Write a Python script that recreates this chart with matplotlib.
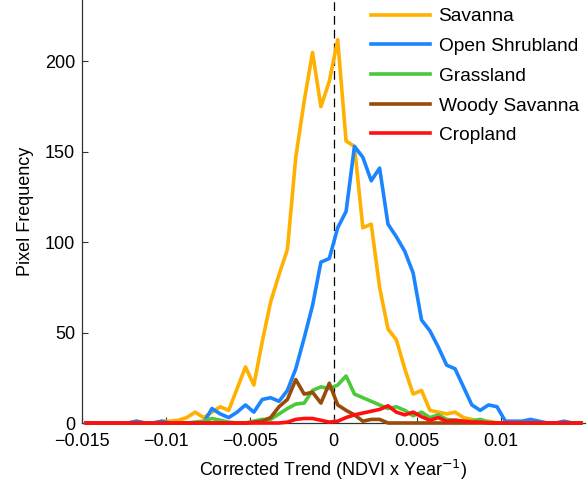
import numpy as np
import matplotlib
matplotlib.use("Agg")
import matplotlib.pyplot as plt

plt.rcParams['font.family'] = ['Liberation Sans', 'DejaVu Sans']

# bin centres of the trend histogram (bin width 0.0005)
trend = np.round(np.arange(-0.01475, 0.0148, 0.0005), 5)

savanna = [0, 0, 0, 0, 0, 0, 1, 0, 0, 1,
           1, 1.5, 3, 6, 3, 6, 9, 7, 19, 31,
           21, 45, 67, 82, 96, 147, 178, 205, 175, 189,
           212, 156, 153, 108, 110, 75, 52, 46, 30, 16,
           18, 7, 6, 5, 6, 3, 2, 1, 1, 0,
           0, 0, 0, 0, 0, 0, 0, 0, 0, 0]
shrubland = [0, 0, 0, 0, 0, 0, 1, 0, 0, 1,
             0, 0, 0, 0, 0, 8, 5, 3, 6, 10,
             6, 13, 14, 12, 18, 30, 47, 65, 89, 91,
             108, 117, 153, 147, 134, 141, 110, 103, 95, 83,
             57, 51, 42, 32, 30, 20, 10, 7, 10, 9,
             1, 1, 1, 2, 1, 0, 0, 1, 0, 0]
grassland = [0, 0, 0, 0, 0, 0, 0, 0, 0, 0,
             0, 0, 0, 0.5, 1, 2.5, 1.5, 0.5, 0, 0,
             1, 2, 2, 5, 8, 10.5, 11, 18, 20, 19,
             21, 26, 16, 14, 12, 10, 8, 9, 7, 4,
             6, 3, 4.5, 2, 1.5, 1, 1, 2, 0.5, 0,
             0, 0, 0, 0, 0, 0, 0, 0, 0, 0]
woody = [0, 0, 0, 0, 0, 0, 0, 0, 0, 0,
         0, 0, 0, 0, 0, 0, 0, 0, 0, 0,
         0.5, 1, 3, 9, 13, 24, 16, 17, 11, 22,
         10, 7, 4.5, 1, 2, 2, 0, 0, 0, 0,
         0, 0, 0, 0, 0, 0, 0, 0, 0, 0,
         0, 0, 0, 0, 0, 0, 0, 0, 0, 0]
cropland = [0, 0, 0, 0, 0, 0, 0, 0, 0, 0,
            0, 0, 0, 0, 0, 0, 0, 0, 0, 0,
            0, 0, 0, 0, 0.5, 2, 2.5, 2.5, 1.5, 0.5,
            1, 3, 4.5, 5.5, 6.5, 7.5, 9.5, 6, 4.5, 6,
            3.5, 1.5, 3, 1, 1.5, 1, 0.5, 0.5, 0, 0,
            0, 0, 0, 0, 0, 0, 0, 0, 0, 0]

names = ['Savanna', 'Open Shrubland', 'Grassland', 'Woody Savanna', 'Cropland']
colors = ['#FFB000', '#1A85FF', '#4CC83C', '#994C0A', '#FF1010']

xticks = [-0.015, -0.01, -0.005, 0, 0.005, 0.01]
xticklabels = ['\u22120.015', '\u22120.01', '\u22120.005', '0', '0.005', '0.01']
yticks = [0, 50, 100, 150, 200]

fig = plt.figure(figsize=(5.87, 4.84), dpi=100)
ax = fig.add_axes([82/587, 61/484, 503/587, 423/484])

ax.axvline(0, color='black', lw=0.9, ls=(0, (7, 4)), zorder=1)

for vals, name, c in zip([savanna, shrubland, grassland, woody, cropland], names, colors):
    ax.plot(trend, vals, color=c, lw=2.6, label=name, clip_on=False, zorder=3)

ax.set_xlim(-0.015, 0.015)
ax.set_ylim(0, 234)
ax.set_xticks(xticks)
ax.set_xticklabels(xticklabels)
ax.set_yticks(yticks)
ax.tick_params(direction='in', length=4, width=0.8, labelsize=13, color='#333333')
ax.tick_params(axis='x', pad=7)
ax.tick_params(axis='y', pad=5)

for s in ['top', 'right']:
    ax.spines[s].set_visible(False)
for s in ['left', 'bottom']:
    ax.spines[s].set_linewidth(0.9)
    ax.spines[s].set_color('#333333')

ax.set_xlabel('Corrected Trend (NDVI x Year$^{-1}$)', fontsize=13, labelpad=6)
ax.set_ylabel('Pixel Frequency', fontsize=13, labelpad=8)

leg = ax.legend(loc='upper left', bbox_to_anchor=(363/587, 1.0),
                bbox_transform=fig.transFigure, frameon=False, fontsize=13.8,
                handlelength=3.1, handletextpad=0.42, labelspacing=0.64,
                borderpad=0.42, borderaxespad=0)

fig.savefig('out.png', dpi=100)
